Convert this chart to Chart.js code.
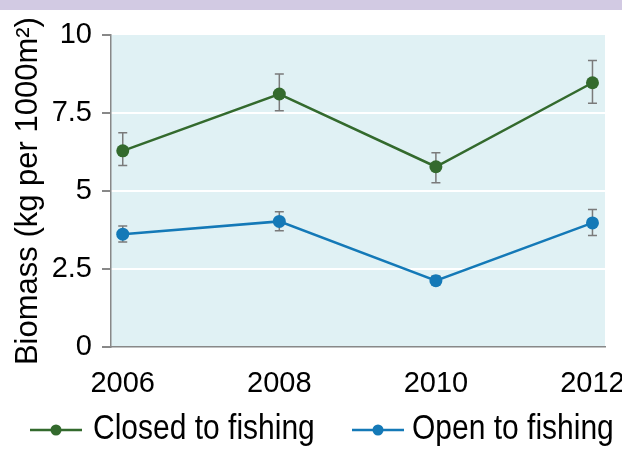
<!DOCTYPE html>
<html lang="en">
<head>
    <meta charset="UTF-8">
    <title>Biomass</title>
    <script src="https://cdn.jsdelivr.net/npm/chart.js"></script>
    <style>
        html, body { margin: 0; padding: 0; background: #fff; }
        #wrap { width: 622px; height: 449px; }
    </style>
</head>
<body>
    <div id="wrap"><canvas id="biomassChart" width="622" height="449"></canvas></div>
    <script>
        // dati
        const years = [2006, 2008, 2010, 2012];
        const closedValues = [6.29, 8.11, 5.78, 8.47];
        const closedLow = [5.82, 7.57, 5.27, 7.81];
        const closedHigh = [6.87, 8.75, 6.23, 9.18];
        const openValues = [3.62, 4.03, 2.13, 3.98];
        const openLow = [3.37, 3.73, 2.0, 3.58];
        const openHigh = [3.88, 4.34, 2.28, 4.41];
        const yTicks = [0, 2.5, 5, 7.5, 10];

        const green = '#336a2d';
        const blue = '#1479b7';
        const font = "'Liberation Sans', Arial, sans-serif";

        const bgPlugin = {
            id: 'bg',
            beforeDraw(chart) {
                const ctx = chart.ctx, a = chart.chartArea;
                ctx.save();
                ctx.fillStyle = '#d2cae3';
                ctx.fillRect(0, 0, chart.width, 10);
                ctx.fillStyle = '#e0f1f4';
                ctx.fillRect(a.left, a.top, a.right - a.left, a.bottom - a.top);
                ctx.restore();
            }
        };

        const errorBars = {
            id: 'errorBars',
            beforeDatasetsDraw(chart) {
                const ctx = chart.ctx;
                const xs = chart.scales.x, ys = chart.scales.y;
                const sets = [[closedLow, closedHigh], [openLow, openHigh]];
                ctx.save();
                ctx.strokeStyle = '#7a7a7a';
                ctx.lineWidth = 1.5;
                sets.forEach(([lo, hi]) => {
                    years.forEach((yr, i) => {
                        const x = xs.getPixelForValue(yr);
                        const y1 = ys.getPixelForValue(lo[i]);
                        const y2 = ys.getPixelForValue(hi[i]);
                        ctx.beginPath();
                        ctx.moveTo(x, y1); ctx.lineTo(x, y2);
                        ctx.moveTo(x - 4.5, y1); ctx.lineTo(x + 4.5, y1);
                        ctx.moveTo(x - 4.5, y2); ctx.lineTo(x + 4.5, y2);
                        ctx.stroke();
                    });
                });
                ctx.restore();
            }
        };

        // legenda disegnata a mano: linea con punto + etichetta
        const legendSlots = [{ line: 30, text: 93 }, { line: 352, text: 412 }];
        const customLegend = {
            id: 'customLegend',
            afterDraw(chart) {
                const ctx = chart.ctx;
                ctx.save();
                chart.data.datasets.forEach((ds, i) => {
                    const s = legendSlots[i];
                    const y = 430;
                    ctx.strokeStyle = ds.borderColor;
                    ctx.lineWidth = 2.5;
                    ctx.beginPath(); ctx.moveTo(s.line, y); ctx.lineTo(s.line + 52, y); ctx.stroke();
                    ctx.fillStyle = ds.borderColor;
                    ctx.beginPath(); ctx.arc(s.line + 26, y, 5.5, 0, Math.PI * 2); ctx.fill();
                    ctx.save();
                    ctx.translate(s.text, 439);
                    ctx.scale(1, 1.15);
                    ctx.fillStyle = '#000';
                    ctx.font = '30px ' + font;
                    ctx.textBaseline = 'alphabetic';
                    ctx.fillText(ds.label, 0, 0);
                    ctx.restore();
                });
                ctx.restore();
            }
        };

        Chart.defaults.font.family = font;
        Chart.defaults.color = '#000';

        new Chart(document.getElementById('biomassChart').getContext('2d'), {
            type: 'line',
            data: {
                datasets: [{
                    label: 'Closed to fishing',
                    data: years.map((x, i) => ({ x: x, y: closedValues[i] })),
                    borderColor: green,
                    backgroundColor: green,
                    borderWidth: 2.5,
                    pointRadius: 6.5,
                    pointBorderWidth: 0,
                    tension: 0
                }, {
                    label: 'Open to fishing',
                    data: years.map((x, i) => ({ x: x, y: openValues[i] })),
                    borderColor: blue,
                    backgroundColor: blue,
                    borderWidth: 2.5,
                    pointRadius: 6.5,
                    pointBorderWidth: 0,
                    tension: 0
                }]
            },
            options: {
                responsive: false,
                animation: false,
                layout: { padding: { left: 0, right: 0, top: 35, bottom: 29 } },
                plugins: {
                    tooltip: { enabled: false },
                    legend: { display: false }
                },
                scales: {
                    x: {
                        type: 'linear',
                        min: 2005.85,
                        max: 2012.16,
                        afterBuildTicks(scale) {
                            scale.ticks = years.map(v => ({ value: v }));
                        },
                        afterFit(scale) {
                            scale.paddingLeft = 0;
                            scale.paddingRight = 17;
                        },
                        ticks: {
                            font: { size: 29 },
                            padding: 19,
                            callback: v => String(v)
                        },
                        grid: { display: false, drawTicks: false },
                        border: { display: true, color: '#888', width: 1.5 }
                    },
                    y: {
                        min: 0,
                        max: 10,
                        afterBuildTicks(scale) {
                            scale.ticks = yTicks.map(v => ({ value: v }));
                        },
                        afterFit(scale) {
                            scale.width = 111;
                        },
                        ticks: {
                            font: { size: 29 },
                            padding: 10,
                            callback: v => String(v)
                        },
                        grid: {
                            color: ctx => (ctx.tick && (ctx.tick.value === 0 || ctx.tick.value === 10)) ? 'rgba(0,0,0,0)' : '#ffffff',
                            tickColor: '#888',
                            tickLength: 9,
                            lineWidth: 2
                        },
                        border: { display: true, color: '#888', width: 1.5 },
                        title: {
                            display: true,
                            text: 'Biomass (kg per 1000m²)',
                            font: { size: 31 },
                            padding: { top: 10, bottom: 0 }
                        }
                    }
                }
            },
            plugins: [bgPlugin, errorBars, customLegend]
        });
    </script>
</body>
</html>
